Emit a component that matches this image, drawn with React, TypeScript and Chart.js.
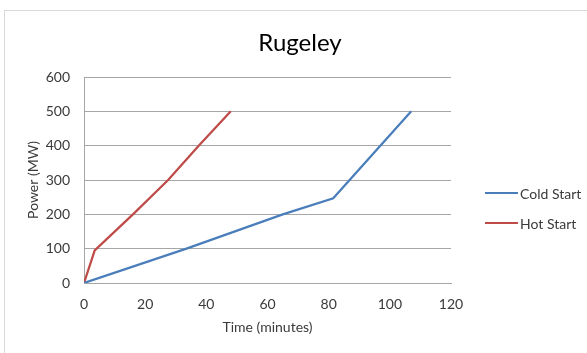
import React, { useEffect, useRef } from "react";
import { Chart, registerables } from "chart.js";

Chart.register(...registerables);

// Start-up ramp of the Rugeley units
const chartTitle = "Rugeley";
const xAxisTitle = "Time (minutes)";
const yAxisTitle = "Power (MW)";

const seriesNames = ["Cold Start", "Hot Start"];
const seriesColors = ["#4a7ebb", "#be4b48"];

const coldTime = [0, 33.5, 65, 81.5, 107];
const coldPower = [0, 100, 200, 247, 500];

const hotTime = [0, 3.5, 16, 27.5, 37.5, 48];
const hotPower = [0, 95, 200, 300, 400, 500];

const xMin = 0;
const xMax = 120;
const xStep = 20;
const yMin = 0;
const yMax = 600;
const yStep = 100;

const FONT = "Lato, 'Open Sans', sans-serif";
const GRID = "#a6a6a6";
const TEXT = "#3a3a3a";

const toPoints = (xs: number[], ys: number[]) => xs.map((x, i) => ({ x, y: ys[i] }));

export default function App() {
  const canvasRef = useRef<HTMLCanvasElement | null>(null);

  useEffect(() => {
    document.body.style.margin = "0";
    const canvas = canvasRef.current;
    if (!canvas) return;
    const chart = new Chart(canvas, {
      type: "scatter",
      data: {
        datasets: [
          {
            label: seriesNames[0],
            data: toPoints(coldTime, coldPower),
            borderColor: seriesColors[0],
            backgroundColor: seriesColors[0],
            borderWidth: 2.25,
            showLine: true,
            pointRadius: 0,
            tension: 0,
          },
          {
            label: seriesNames[1],
            data: toPoints(hotTime, hotPower),
            borderColor: seriesColors[1],
            backgroundColor: seriesColors[1],
            borderWidth: 2.25,
            showLine: true,
            pointRadius: 0,
            tension: 0,
          },
        ],
      },
      options: {
        responsive: false,
        animation: false,
        devicePixelRatio: 1,
        layout: { padding: { top: 77, right: 136, left: 0, bottom: 0 } },
        plugins: {
          legend: { display: false },
          title: { display: false },
          tooltip: { enabled: false },
        },
        scales: {
          x: {
            type: "linear",
            min: xMin,
            max: xMax,
            grid: { display: false, drawTicks: false },
            border: { display: true, color: GRID, width: 1 },
            ticks: {
              stepSize: xStep,
              padding: 13,
              color: TEXT,
              font: { family: FONT, size: 14 },
              maxRotation: 0,
            },
            title: {
              display: true,
              text: xAxisTitle,
              color: TEXT,
              font: { family: FONT, size: 14 },
              padding: { top: 0, bottom: 17 },
            },
            afterFit: (scale: any) => {
              scale.height = 70;
            },
          },
          y: {
            min: yMin,
            max: yMax,
            grid: { display: true, color: GRID, lineWidth: 1, drawTicks: false },
            border: { display: true, color: GRID, width: 1 },
            ticks: {
              stepSize: yStep,
              padding: 14,
              color: TEXT,
              font: { family: FONT, size: 14 },
            },
            title: {
              display: true,
              text: yAxisTitle,
              color: TEXT,
              font: { family: FONT, size: 14 },
              padding: { top: 25, bottom: 0 },
            },
            afterFit: (scale: any) => {
              scale.width = 84;
            },
          },
        },
      },
    });
    return () => chart.destroy();
  }, []);

  return (
    <div style={{ position: "relative", width: 587, height: 353, overflow: "hidden", background: "#fff" }}>
      <div
        style={{
          position: "absolute",
          left: 4,
          top: 10,
          width: 620,
          height: 380,
          border: "1px solid #d9d9d9",
          boxSizing: "border-box",
        }}
      />
      <canvas ref={canvasRef} width={587} height={353} style={{ position: "absolute", left: 0, top: 0, width: 587, height: 353 }} />
      <div
        style={{
          position: "absolute",
          left: 0,
          top: 30,
          width: 600,
          textAlign: "center",
          fontFamily: FONT,
          fontSize: 24,
          lineHeight: "24px",
          color: "#000",
        }}
      >
        {chartTitle}
      </div>
      {seriesNames.map((name, i) => (
        <div
          key={name}
          style={{
            position: "absolute",
            left: 485,
            top: 193 + i * 30 - 10,
            height: 20,
            display: "flex",
            alignItems: "center",
            fontFamily: FONT,
            fontSize: 14,
            color: TEXT,
          }}
        >
          <span style={{ display: "inline-block", width: 33, height: 2.5, background: seriesColors[i], marginRight: 2 }} />
          <span>{name}</span>
        </div>
      ))}
    </div>
  );
}
